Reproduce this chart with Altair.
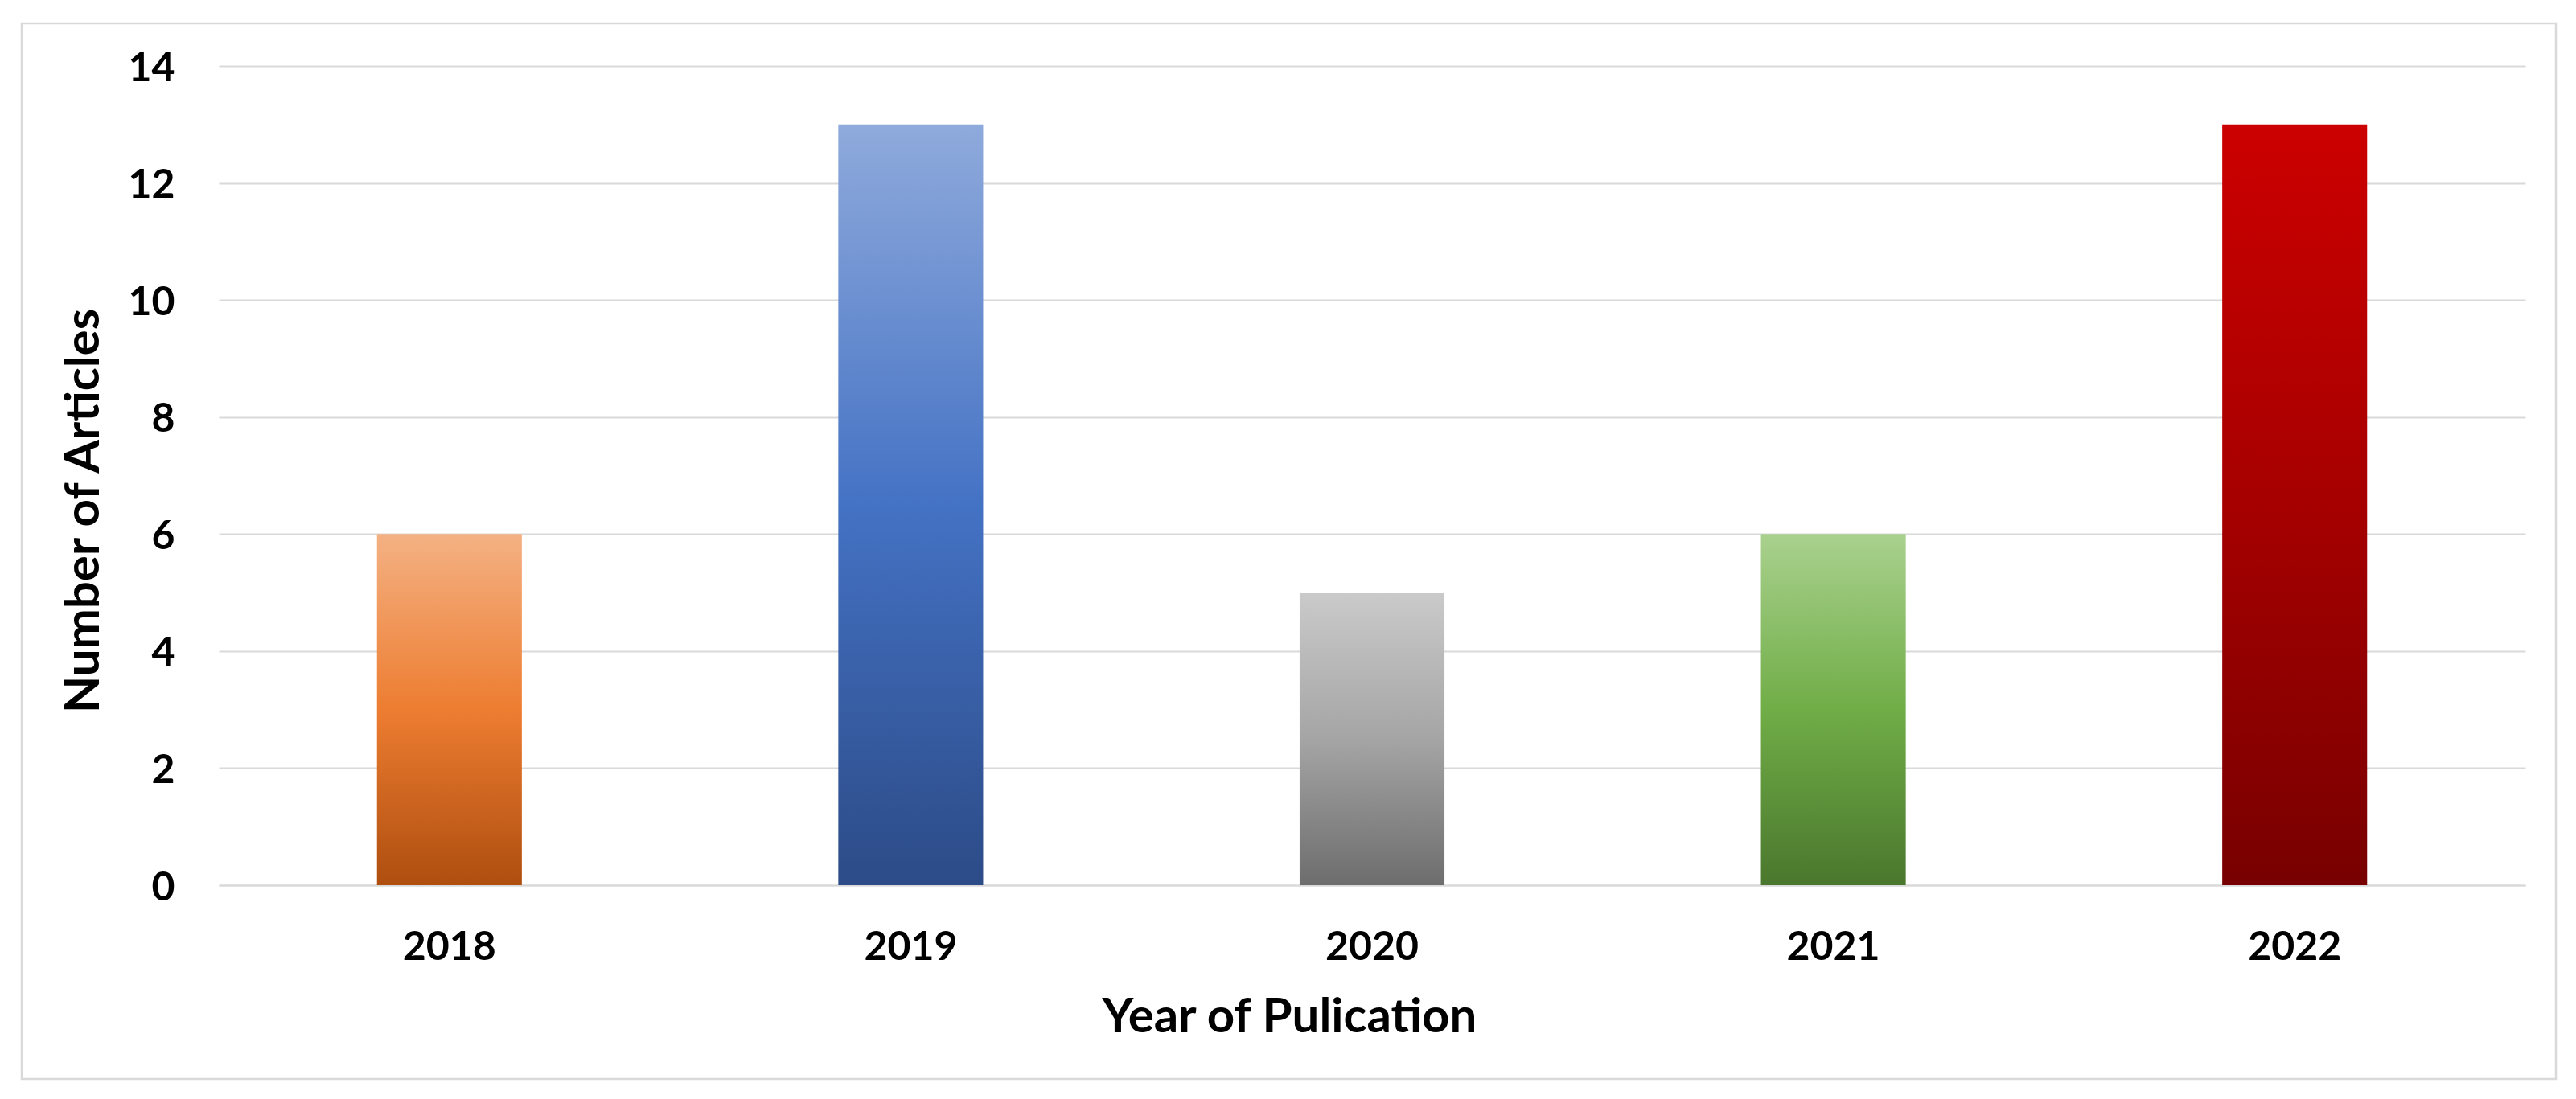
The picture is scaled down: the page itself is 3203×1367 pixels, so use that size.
import altair as alt
import pandas as pd

years = ["2018", "2019", "2020", "2021", "2022"]
articles = [6, 13, 5, 6, 13]
y_ticks = [0, 2, 4, 6, 8, 10, 12, 14]

# gradient stops per bar: top, middle, bottom
bar_colors = {
    "2018": ["#F4B183", "#ED7D31", "#AE4E0F"],
    "2019": ["#8FAADC", "#4472C4", "#2C4B87"],
    "2020": ["#CACACA", "#A5A5A5", "#6D6D6D"],
    "2021": ["#A9D18E", "#70AD47", "#4A772D"],
    "2022": ["#CC0000", "#A60000", "#780000"],
}

df = pd.DataFrame({"year": years, "articles": articles})

FONT = "Lato"
GRID = "#D9D9D9"

x_enc = alt.X(
    "year:N",
    sort=years,
    scale=alt.Scale(domain=years, paddingInner=0.686, paddingOuter=0.343),
    axis=alt.Axis(
        title="Year of Pulication",
        labelAngle=0,
        ticks=False,
        grid=False,
        domain=True,
        domainColor=GRID,
        domainWidth=2,
        labelFont=FONT,
        labelFontSize=50,
        labelFontWeight="bold",
        labelColor="#000000",
        labelBaseline="top",
        labelPadding=52,
        titleFont=FONT,
        titleFontSize=60,
        titleFontWeight="bold",
        titleColor="#000000",
        titleAlign="center",
        titleBaseline="alphabetic",
        titleX=1331,
        titleY=182,
    ),
)
y_enc = alt.Y(
    "articles:Q",
    scale=alt.Scale(domain=[0, 14], nice=False),
    axis=alt.Axis(
        title="Number of Articles",
        values=y_ticks,
        ticks=False,
        domain=False,
        grid=True,
        gridColor=GRID,
        gridWidth=2,
        labelFont=FONT,
        labelFontSize=50,
        labelFontWeight="bold",
        labelColor="#000000",
        labelPadding=55,
        labelOffset=3,
        titleFont=FONT,
        titleFontSize=60,
        titleFontWeight="bold",
        titleColor="#000000",
        titleAngle=270,
        titleAlign="center",
        titleBaseline="alphabetic",
        titleX=-150,
        titleY=553,
    ),
)

layers = []
for yr in years:
    top, mid, bot = bar_colors[yr]
    grad = alt.Gradient(
        gradient="linear",
        stops=[
            alt.GradientStop(color=top, offset=0),
            alt.GradientStop(color=mid, offset=0.5),
            alt.GradientStop(color=bot, offset=1),
        ],
        x1=0, x2=0, y1=0, y2=1,
    )
    layers.append(
        alt.Chart(df)
        .transform_filter(alt.datum.year == yr)
        .mark_bar(color=grad)
        .encode(x=x_enc, y=y_enc)
    )

frame = (
    alt.Chart(pd.DataFrame({"f": [0]}))
    .mark_rect(fill="transparent", stroke=GRID, strokeWidth=2.5, clip=False)
    .encode(
        x=alt.value(-245), x2=alt.value(2906),
        y=alt.value(-53), y2=alt.value(1260),
    )
)

chart = (
    alt.layer(frame, *layers)
    .properties(
        width=2868,
        height=1019,
        autosize=alt.AutoSizeParams(type="none"),
        padding={"left": 264, "top": 74, "right": 50, "bottom": 245},
        background="white",
    )
    .configure_view(stroke=None)
)

chart.save("out.html", embed_options={"renderer": "svg", "actions": False})
